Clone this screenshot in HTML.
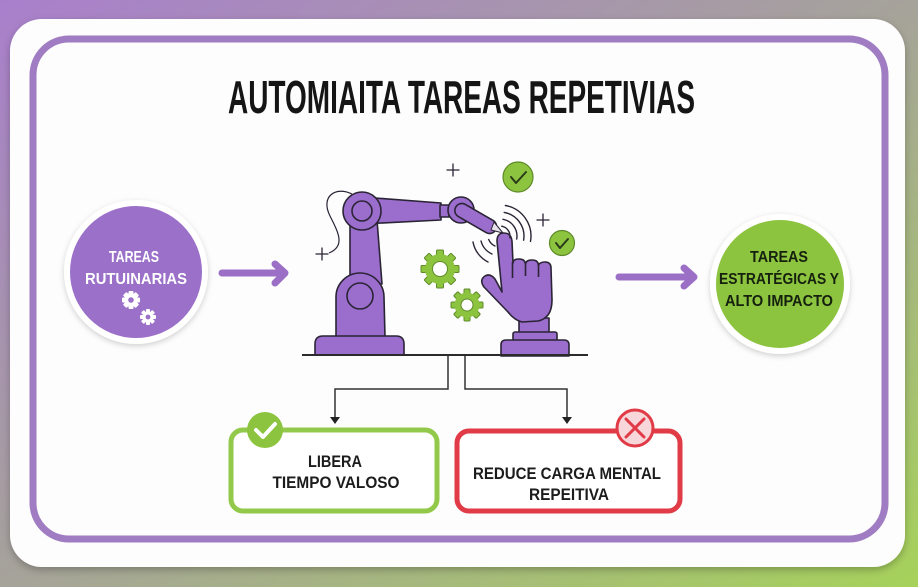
<!DOCTYPE html>
<html><head><meta charset="utf-8"><style>
html,body{margin:0;padding:0;width:918px;height:587px;overflow:hidden;}
svg{display:block;}
</style></head><body>
<svg width="918" height="587" viewBox="0 0 918 587" xmlns="http://www.w3.org/2000/svg">
<defs>
<linearGradient id="bg" x1="0" y1="0" x2="1" y2="1">
<stop offset="0" stop-color="#a97fcc"/>
<stop offset="0.5" stop-color="#a6a39a"/>
<stop offset="1" stop-color="#a6d25a"/>
</linearGradient>
<filter id="sh" x="-20%" y="-20%" width="140%" height="140%"><feDropShadow dx="0" dy="3" stdDeviation="4" flood-color="#000" flood-opacity="0.25"/></filter>
<filter id="sh2" x="-20%" y="-20%" width="140%" height="140%"><feDropShadow dx="0" dy="2" stdDeviation="3" flood-color="#000" flood-opacity="0.18"/></filter>
</defs>
<rect width="918" height="587" fill="url(#bg)"/>
<rect x="10" y="19" width="895" height="548" rx="32" fill="#fdfdfd" filter="url(#sh)"/>
<rect x="33" y="39" width="852" height="500" rx="36" fill="none" stroke="#a07cc2" stroke-width="7"/>

<text x="228" y="113" textLength="467" lengthAdjust="spacingAndGlyphs" font-family="Liberation Sans, sans-serif" font-weight="bold" font-size="46" fill="#151515">AUTOMIAITA TAREAS REPETIVIAS</text>

<!-- left circle -->
<circle cx="136" cy="272" r="72" fill="#fff" filter="url(#sh2)"/>
<circle cx="136" cy="272" r="66" fill="#9b70c8"/>
<g font-family="Liberation Sans, sans-serif" font-weight="bold" font-size="16" fill="#fff" text-anchor="middle">
<text x="134" y="262" textLength="50" lengthAdjust="spacingAndGlyphs">TAREAS</text>
<text x="136" y="284" textLength="102" lengthAdjust="spacingAndGlyphs">RUTUINARIAS</text>
</g>
<g fill="#fff">
<g transform="translate(131,300)">
<rect x="-2.5" y="-9" width="5" height="18" rx="1"/>
<rect x="-2.5" y="-9" width="5" height="18" rx="1" transform="rotate(45)"/>
<rect x="-2.5" y="-9" width="5" height="18" rx="1" transform="rotate(90)"/>
<rect x="-2.5" y="-9" width="5" height="18" rx="1" transform="rotate(135)"/>
<circle r="6.5"/><circle r="2.8" fill="#9b70c8"/>
</g>
<g transform="translate(148,317)">
<rect x="-2" y="-8" width="4" height="16" rx="1"/>
<rect x="-2" y="-8" width="4" height="16" rx="1" transform="rotate(45)"/>
<rect x="-2" y="-8" width="4" height="16" rx="1" transform="rotate(90)"/>
<rect x="-2" y="-8" width="4" height="16" rx="1" transform="rotate(135)"/>
<circle r="5.5"/><circle r="2.4" fill="#9b70c8"/>
</g>
</g>

<!-- arrows -->
<g stroke="#9b6fc6" stroke-width="7" stroke-linecap="round" stroke-linejoin="round" fill="none">
<line x1="222" y1="273" x2="284" y2="273"/>
<polyline points="275,264 285,273 275,283"/>
<line x1="619" y1="277" x2="693" y2="277"/>
<polyline points="684,268 694,277 684,286"/>
</g>

<!-- right circle -->
<circle cx="780" cy="284" r="70" fill="#fff" filter="url(#sh2)"/>
<circle cx="780" cy="284" r="64" fill="#8cc43f"/>
<g font-family="Liberation Sans, sans-serif" font-weight="bold" font-size="16" fill="#16200e" text-anchor="middle">
<text x="779" y="262" textLength="58" lengthAdjust="spacingAndGlyphs">TAREAS</text>
<text x="779" y="284" textLength="120" lengthAdjust="spacingAndGlyphs">ESTRATÉGICAS Y</text>
<text x="779" y="306" textLength="108" lengthAdjust="spacingAndGlyphs">ALTO IMPACTO</text>
</g>

<!-- robot illustration -->
<g stroke="#2b2436" stroke-width="1.6" stroke-linejoin="round" fill="#9b6dcc">
<!-- cable -->
<path d="M352 194 C336 186 320 196 330 216 C338 232 346 246 329 253" fill="none" stroke-width="1.2"/>
<!-- upper arm -->
<polygon points="350,220 377,220 382,284 350,284"/>
<!-- horizontal arm -->
<polygon points="362,197 441,203 441,220 362,224"/>
<rect x="440" y="205" width="9" height="12"/>
<!-- elbow -->
<circle cx="461" cy="210" r="13"/>
<g transform="translate(461,210) rotate(30)">
<rect x="-6" y="-7" width="46" height="14" rx="7"/>
</g>
<polygon points="494,222 503,233 491,230" fill="#e6e1ea" stroke-width="1"/>
<!-- lower body -->
<path d="M336 337 L336 297 A24 24 0 0 1 384 297 L385 337 Z"/>
<circle cx="360" cy="296" r="13"/>
<!-- shoulder -->
<circle cx="362" cy="211" r="19"/>
<circle cx="362" cy="211" r="10"/>
<!-- base -->
<path d="M315 355 L315 344 Q315 336 323 336 L396 336 Q404 336 404 344 L404 355 Z"/>

<!-- hand -->
<rect x="519" y="318" width="30" height="15"/>
<rect x="513" y="332" width="44" height="9" rx="2"/>
<path d="M501 356 L501 345 Q501 340 506 340 L564 340 Q569 340 569 345 L569 356 Z"/>
<path d="M497 241 Q497 233 504 233 Q511 233 512 241 L513 263 Q513 259 519 259 Q525 259 525.5 264 Q526 260 532 260 Q538 260 538.5 265 Q540 262 545 262 Q551 262 551 268 L552 300 Q552 318 538 321 L522 322 Q514 320 508 312 L484 287 Q479 280 485 276 Q490 273 495 279 L502 292 Z"/>
<path d="M512.5 262 L512.5 278 M525.5 263 L525.5 276 M538.5 265 L538.5 277" fill="none"/>
</g>
<!-- base line -->
<line x1="302" y1="355" x2="588" y2="355" stroke="#2b2b2b" stroke-width="2"/>

<!-- waves -->
<g fill="none" stroke="#2b2436" stroke-width="1.4" stroke-linecap="round">
<path d="M501.7 226.2 A10 10 0 0 1 509.8 237.7"/>
<path d="M503 219.3 A17 17 0 0 1 516.7 239"/>
<path d="M504.2 212.4 A24 24 0 0 1 523.6 240.2"/>
<path d="M505.4 205.5 A31 31 0 0 1 530.5 241.4"/>
<path d="M488.7 239.5 A12 12 0 0 0 495 246"/>
<path d="M481 241 A20 20 0 0 0 492 254"/>
<path d="M473 242 A28 28 0 0 0 488 262"/>
</g>
<!-- sparkles -->
<g stroke="#2b2436" stroke-width="1.3" stroke-linecap="round">
<path d="M453 164 V176 M447 170 H459"/>
<path d="M322 248 V260 M316 254 H328"/>
<path d="M543 214 V226 M537 220 H549"/>
</g>
<!-- check circles -->
<g>
<circle cx="518" cy="177" r="15" fill="#8cc43f" stroke="#5f8a2a" stroke-width="1.2"/>
<polyline points="511,177 516,183 526,172" fill="none" stroke="#2b3a1a" stroke-width="2" stroke-linecap="round" stroke-linejoin="round"/>
<circle cx="562" cy="243" r="12.5" fill="#8cc43f" stroke="#5f8a2a" stroke-width="1.2"/>
<polyline points="556,243 560,248 568,239" fill="none" stroke="#2b3a1a" stroke-width="2" stroke-linecap="round" stroke-linejoin="round"/>
</g>
<!-- gears -->
<g fill="#8cc43f" stroke="#5f8a2a" stroke-width="1">
<g transform="translate(440,269)">
<rect x="-3.5" y="-19" width="7" height="38" rx="1"/>
<rect x="-3.5" y="-19" width="7" height="38" rx="1" transform="rotate(45)"/>
<rect x="-3.5" y="-19" width="7" height="38" rx="1" transform="rotate(90)"/>
<rect x="-3.5" y="-19" width="7" height="38" rx="1" transform="rotate(135)"/>
<circle r="15" stroke="none"/>
<circle r="7.5" fill="#fff"/>
</g>
<g transform="translate(467,305)">
<rect x="-3" y="-16" width="6" height="32" rx="1"/>
<rect x="-3" y="-16" width="6" height="32" rx="1" transform="rotate(45)"/>
<rect x="-3" y="-16" width="6" height="32" rx="1" transform="rotate(90)"/>
<rect x="-3" y="-16" width="6" height="32" rx="1" transform="rotate(135)"/>
<circle r="12.5" stroke="none"/>
<circle r="6" fill="#fff"/>
</g>
</g>

<!-- connectors -->
<g fill="none" stroke="#333" stroke-width="1.5">
<polyline points="448,356 448,389 335,389 335,418"/>
<polyline points="465,356 465,389 567,389 567,418"/>
</g>
<polygon points="330,417 340,417 335,424" fill="#222"/>
<polygon points="562,417 572,417 567,424" fill="#222"/>

<!-- left box -->
<rect x="231" y="430" width="206" height="81" rx="12" fill="#fff" stroke="#93c94a" stroke-width="5"/>
<circle cx="265" cy="430" r="18" fill="#8cc43f"/>
<polyline points="256,430 263,437 275,424" fill="none" stroke="#fff" stroke-width="4" stroke-linecap="round" stroke-linejoin="round"/>
<g font-family="Liberation Sans, sans-serif" font-weight="bold" font-size="17" fill="#1c1c1c" text-anchor="middle">
<text x="335" y="467" textLength="54" lengthAdjust="spacingAndGlyphs">LIBERA</text>
<text x="336" y="488" textLength="127" lengthAdjust="spacingAndGlyphs">TIEMPO VALOSO</text>
</g>

<!-- right box -->
<rect x="457" y="431" width="223" height="80" rx="12" fill="#fff" stroke="#e03b46" stroke-width="5"/>
<circle cx="635" cy="428" r="18" fill="#f8d7da" stroke="#e03b46" stroke-width="3"/>
<path d="M626 419 L644 437 M644 419 L626 437" stroke="#e03b46" stroke-width="3" stroke-linecap="round"/>
<g font-family="Liberation Sans, sans-serif" font-weight="bold" font-size="17" fill="#1c1c1c" text-anchor="middle">
<text x="567" y="479" textLength="188" lengthAdjust="spacingAndGlyphs">REDUCE CARGA MENTAL</text>
<text x="569" y="500" textLength="80" lengthAdjust="spacingAndGlyphs">REPEITIVA</text>
</g>
</svg>
</body></html>
